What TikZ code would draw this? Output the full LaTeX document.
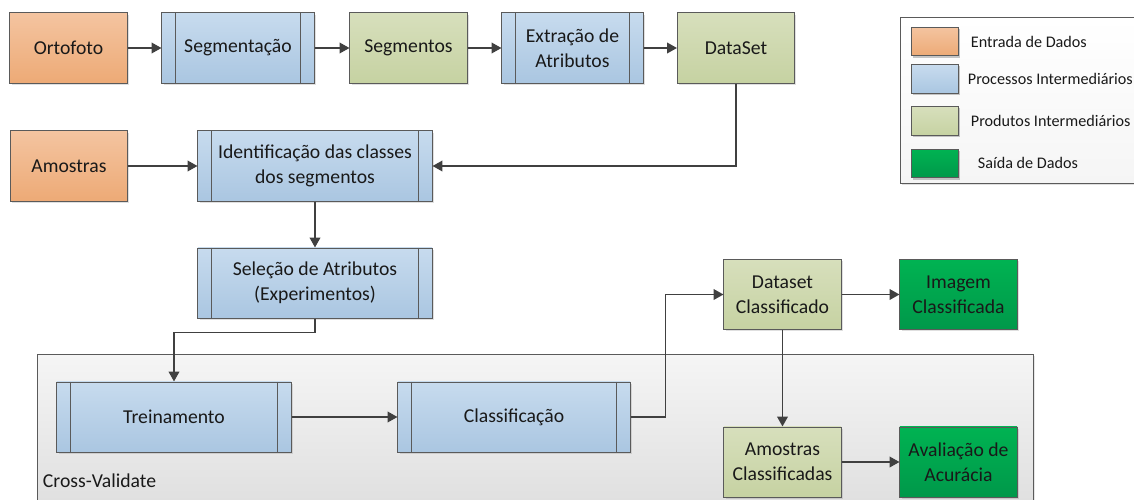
\documentclass[tikz,border=0pt]{standalone}
\usepackage{fontspec}
\setmainfont{Carlito}
\usetikzlibrary{arrows.meta,shadows}

\definecolor{borda}{HTML}{5A5A5A}
\definecolor{seta}{HTML}{404040}
\definecolor{laranjaA}{HTML}{F4C4A0}
\definecolor{laranjaB}{HTML}{EDAA76}
\definecolor{azulA}{HTML}{C7DBEE}
\definecolor{azulB}{HTML}{AAC6E1}
\definecolor{verdeA}{HTML}{D7DFBC}
\definecolor{verdeB}{HTML}{C6D2A2}
\definecolor{escuroA}{HTML}{00B352}
\definecolor{escuroB}{HTML}{00984A}
\definecolor{cinzaA}{HTML}{F5F5F5}
\definecolor{cinzaB}{HTML}{DEDEDE}

\tikzset{
  caixa/.style={draw=borda, line width=0.7pt, align=center, text=black!90,
    minimum width=2.925cm, minimum height=1.75cm, inner sep=2pt,
    drop shadow={opacity=0.25, shadow xshift=1.2pt, shadow yshift=-1.2pt}},
  entrada/.style={caixa, top color=laranjaA, bottom color=laranjaB},
  produto/.style={caixa, top color=verdeA, bottom color=verdeB},
  saida/.style={caixa, top color=escuroA, bottom color=escuroB},
  processo/.style={caixa, top color=azulA, bottom color=azulB,
    path picture={\draw[borda, line width=0.7pt]
      ([xshift=0.35cm]path picture bounding box.north west) -- ([xshift=0.35cm]path picture bounding box.south west)
      ([xshift=-0.35cm]path picture bounding box.north east) -- ([xshift=-0.35cm]path picture bounding box.south east);}},
  amostra/.style={caixa, minimum width=1.175cm, minimum height=0.72cm},
  rotulo/.style={anchor=west, font=\fontsize{11.5}{14}\selectfont, text=black!90},
  liga/.style={draw=seta, line width=1.2pt, -{Triangle[length=7pt, width=7.5pt]}}
}

\begin{document}
\begin{tikzpicture}[x=0.025cm, y=-0.025cm, font=\fontsize{14}{17.5}\selectfont]
\useasboundingbox (0,0) rectangle (1134,500);

% caixas de fundo
\node[draw=borda, line width=0.7pt, top color=cinzaA, bottom color=cinzaB, anchor=north west,
  minimum width=24.9cm, minimum height=4cm,
  drop shadow={opacity=0.2, shadow xshift=1.2pt, shadow yshift=-1.2pt}] (cv) at (37,354) {};
\node[anchor=west, text=black!90] (cvtexto) at (38,481) {Cross-Validate};

\node[draw=borda, line width=0.7pt, top color=white, bottom color=cinzaA, anchor=north west,
  minimum width=6.125cm, minimum height=4.15cm,
  drop shadow={opacity=0.25, shadow xshift=1.2pt, shadow yshift=-1.2pt}] (leg) at (900,17) {};

% legenda
\node[entrada, amostra] (legA) at (934.5,41.5) {};
\node[processo, amostra, path picture={}] (legB) at (934.5,79) {};
\node[produto, amostra] (legC) at (934.5,121) {};
\node[saida, amostra] (legD) at (934.5,163.5) {};
\node[rotulo] (legAt) at (966,42) {Entrada de Dados};
\node[rotulo] (legBt) at (963,79) {Processos Intermediários};
\node[rotulo] (legCt) at (966,121) {Produtos Intermediários};
\node[rotulo] (legDt) at (973,163) {Saída de Dados};

% fluxo
\node[entrada] (ortofoto) at (68.5,48) {Ortofoto};
\node[processo, minimum width=3.8cm] (segm) at (238,48) {Segmentação};
\node[produto] (segmentos) at (408.5,48) {Segmentos};
\node[processo, minimum width=3.525cm] (extracao) at (572.5,48) {Extração de\\Atributos};
\node[produto] (dataset) at (736,48) {DataSet};

\node[entrada] (amostras) at (69,166) {Amostras};
\node[processo, minimum width=5.85cm] (ident) at (315,166) {Identificação das classes\\dos segmentos};
\node[processo, minimum width=5.85cm] (selecao) at (315,283) {Seleção de Atributos\\(Experimentos)};

\node[processo, minimum width=5.85cm] (trein) at (174,417) {Treinamento};
\node[processo, minimum width=5.8cm] (classif) at (514,417) {Classificação};

\node[produto] (dsclass) at (782.5,294.5) {Dataset\\Classificado};
\node[saida] (imagem) at (958.5,294.5) {Imagem\\Classificada};
\node[produto] (amclass) at (782.5,462) {Amostras\\Classificadas};
\node[saida] (avalia) at (958.5,462) {Avaliação de\\Acurácia};

\draw[liga] (ortofoto) -- (segm);
\draw[liga] (segm) -- (segmentos);
\draw[liga] (segmentos) -- (extracao);
\draw[liga] (extracao) -- (dataset);
\draw[liga] (dataset.south) |- (ident.east);
\draw[liga] (amostras) -- (ident);
\draw[liga] (ident) -- (selecao);
\draw[liga] (selecao.south) -- ++(0,14) -| (trein.north);
\draw[liga] (trein) -- (classif);
\draw[liga] (classif.east) -- ++(35,0) |- (dsclass.west);
\draw[liga] (dsclass) -- (imagem);
\draw[liga] (dsclass) -- (amclass);
\draw[liga] (amclass) -- (avalia);
\end{tikzpicture}
\end{document}
